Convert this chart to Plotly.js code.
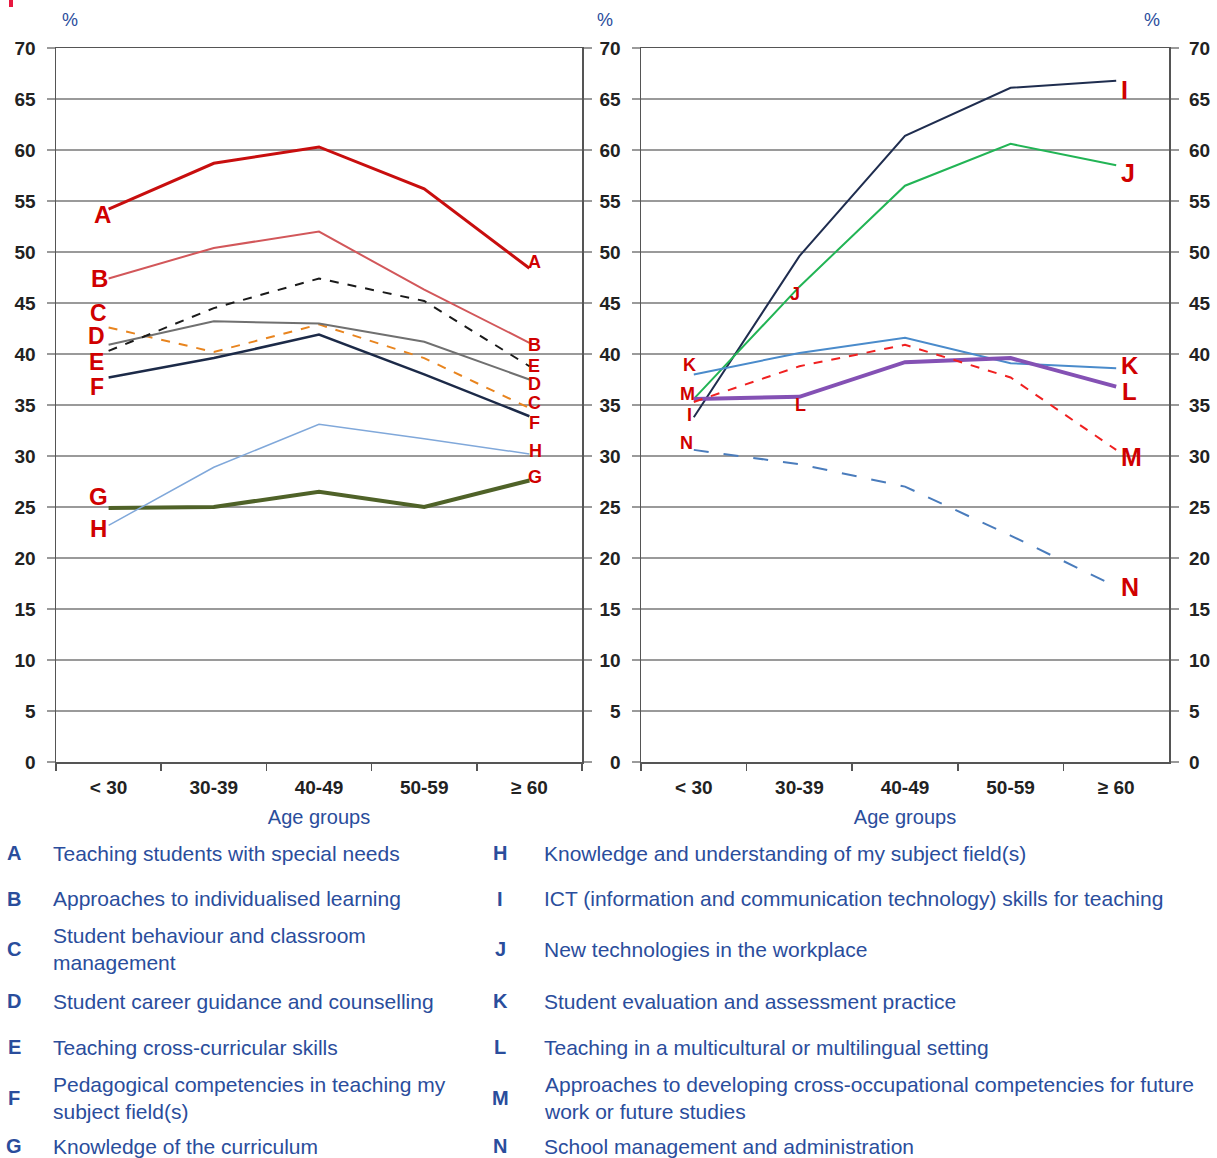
<!DOCTYPE html>
<html>
<head>
<meta charset="utf-8">
<script src="https://cdn.plot.ly/plotly-3.0.1.min.js"></script>
<style>html,body{margin:0;padding:0;background:#fff;}#chart{width:1217px;height:1158px;}</style>
</head>
<body>
<div id="chart"></div>
<script>
// ---- data ----
const ages = ['< 30', '30-39', '40-49', '50-59', '≥ 60'];
const yTicks = [0, 5, 10, 15, 20, 25, 30, 35, 40, 45, 50, 55, 60, 65, 70];

const A = [54.2, 58.7, 60.3, 56.2, 48.4];
const B = [47.4, 50.4, 52.0, 46.3, 41.1];
const C = [42.6, 40.2, 42.9, 39.6, 34.7];
const D = [40.9, 43.2, 43.0, 41.2, 37.5];
const E = [40.3, 44.5, 47.4, 45.2, 38.8];
const F = [37.7, 39.6, 41.9, 38.0, 33.9];
const G = [24.9, 25.0, 26.5, 25.0, 27.6];
const H = [23.2, 28.9, 33.1, 31.7, 30.2];

const I = [33.8, 49.6, 61.4, 66.1, 66.8];
const J = [35.6, 46.6, 56.5, 60.6, 58.5];
const K = [38.0, 40.1, 41.6, 39.1, 38.6];
const L = [35.6, 35.8, 39.2, 39.6, 36.8];
const M = [35.3, 38.8, 40.9, 37.7, 30.6];
const N = [30.6, 29.2, 27.0, 22.2, 17.2];

const legendLetters = ['A','B','C','D','E','F','G','H','I','J','K','L','M','N'];
const legendTexts = [
  'Teaching students with special needs',
  'Approaches to individualised learning',
  'Student behaviour and classroom<br>management',
  'Student career guidance and counselling',
  'Teaching cross-curricular skills',
  'Pedagogical competencies in teaching my<br>subject field(s)',
  'Knowledge of the curriculum',
  'Knowledge and understanding of my subject field(s)',
  'ICT (information and communication technology) skills for teaching',
  'New technologies in the workplace',
  'Student evaluation and assessment practice',
  'Teaching in a multicultural or multilingual setting',
  'Approaches to developing cross-occupational competencies for future<br>work or future studies',
  'School management and administration'
];
const axisTitle = 'Age groups';
const unitLabel = '%';

// ---- styling ----
const FONT = 'Liberation Sans, Arial, sans-serif';
const BLUE = '#2a4d9c';
const RED = '#d00000';
const W = 1217, Hh = 1158;
const px = v => v / W;
const py = v => 1 - v / Hh;

const seriesDefs = [
  {name:'A', y:A, ax:1, color:'#c80e0e', width:3, dash:'solid'},
  {name:'B', y:B, ax:1, color:'#d2575a', width:2, dash:'solid'},
  {name:'C', y:C, ax:1, color:'#e8841e', width:2, dash:'dash'},
  {name:'D', y:D, ax:1, color:'#707070', width:2, dash:'solid'},
  {name:'E', y:E, ax:1, color:'#1a1a1a', width:2, dash:'dash'},
  {name:'F', y:F, ax:1, color:'#1c2a48', width:2.5, dash:'solid'},
  {name:'G', y:G, ax:1, color:'#4f6228', width:4, dash:'solid'},
  {name:'H', y:H, ax:1, color:'#80a8da', width:1.5, dash:'solid'},
  {name:'I', y:I, ax:2, color:'#1f2d4f', width:2, dash:'solid'},
  {name:'J', y:J, ax:2, color:'#22b455', width:2, dash:'solid'},
  {name:'K', y:K, ax:2, color:'#4a8bcb', width:2, dash:'solid'},
  {name:'L', y:L, ax:2, color:'#8451b4', width:4, dash:'solid'},
  {name:'M', y:M, ax:2, color:'#f02020', width:2, dash:'dash'},
  {name:'N', y:N, ax:2, color:'#4a7cbc', width:2, dash:'longdash'}
];

const traces = seriesDefs.map(s => ({
  type:'scatter', mode:'lines', name:s.name,
  x: ages, y: s.y,
  xaxis: s.ax === 1 ? 'x' : 'x2',
  yaxis: s.ax === 1 ? 'y' : 'y2',
  line:{color:s.color, width:s.width, dash:s.dash},
  hoverinfo:'skip', showlegend:false
}));

// letter labels anchored to data points (index, pixel shifts, font size)
const labelDefs = [
  ['A',0,-6,-5,24],['B',0,-9,0,24],['C',0,-10,14,23],['D',0,-12,9,23],
  ['E',0,-12,-11,23],['F',0,-12,-10,23],['G',0,-10,12,24],['H',0,-10,-3,24],
  ['A',4,5,6,18],['B',4,5,-2,18],['E',4,5,0,18],['D',4,5,-4,18],
  ['C',4,5,5,18],['F',4,5,-7,18],['H',4,6,3,18],['G',4,6,3,18],
  ['K',0,-4,9,18],['M',0,-6,8,18],['I',0,-4,2,18],['N',0,-7,7,18],
  ['J',1,-4,-7,18],['L',1,1,-8,18],
  ['I',4,8,-9,25],['J',4,12,-8,25],['K',4,14,3,24],['L',4,13,-5,24],
  ['M',4,15,-7,25],['N',4,14,0,25]
];
const byName = {};
seriesDefs.forEach(s => byName[s.name] = s);
const annotations = labelDefs.map(([n, i, dx, dy, sz]) => {
  const s = byName[n];
  return {
    x: ages[i], y: s.y[i],
    xref: s.ax === 1 ? 'x' : 'x2', yref: s.ax === 1 ? 'y' : 'y2',
    text: '<b>' + n + '</b>', showarrow:false,
    xshift: dx, yshift: dy, xanchor:'center', yanchor:'middle',
    font:{family:FONT, size:sz, color:RED}
  };
});

// unit labels
[[70,20],[605,20],[1152,20]].forEach(([x,y]) => annotations.push({
  xref:'paper', yref:'paper', x:px(x), y:py(y), text:unitLabel, showarrow:false,
  xanchor:'center', yanchor:'middle', font:{family:FONT, size:18, color:BLUE}
}));

// legend
const rowY = [853, 899, 949, 1001, 1047, 1098, 1146];
legendLetters.forEach((l, k) => {
  const col = k < 7 ? 0 : 1;
  const r = k % 7;
  const lx = col === 0 ? 14 : 500;
  const tx = col === 0 ? 51 : 542;
  annotations.push({
    xref:'paper', yref:'paper', x:px(lx), y:py(rowY[r]), text:'<b>' + l + '</b>',
    showarrow:false, xanchor:'center', yanchor:'middle',
    font:{family:FONT, size:20, color:BLUE}
  });
  annotations.push({
    xref:'paper', yref:'paper', x:px(tx), y:py(rowY[r]), text:legendTexts[k],
    showarrow:false, xanchor:'left', yanchor:'middle', align:'left',
    font:{family:FONT, size:21, color:BLUE}
  });
});

const tickFont = {family:FONT, size:19, color:'#222', weight:'bold'};
const xBase = {
  type:'category', categoryarray: ages, range:[-0.5, 4.5],
  showgrid:false, zeroline:false,
  showline:true, linecolor:'#555', linewidth:1.5, mirror:true,
  ticks:'outside', tickson:'boundaries', ticklen:7, tickcolor:'#555', tickwidth:1.5,
  tickfont: tickFont, fixedrange:true, ticklabelstandoff:8,
  title:{text:axisTitle, font:{family:FONT, size:20, color:BLUE}, standoff:12}
};
const yBase = {
  range:[0,70], tickvals: yTicks, ticktext: yTicks.map(String),
  showgrid:true, gridcolor:'#9a9a9a', gridwidth:1.5, zeroline:false,
  showline:true, linecolor:'#555', linewidth:1.5, mirror:'ticks',
  ticks:'outside', ticklen:8, tickcolor:'#9a9a9a', tickwidth:1.5,
  tickfont: tickFont, fixedrange:true
};

const layout = {
  width:W, height:Hh, autosize:false,
  margin:{l:0, r:0, t:0, b:0},
  paper_bgcolor:'#fff', plot_bgcolor:'#fff',
  font:{family:FONT},
  xaxis: Object.assign({}, xBase, {domain:[px(56), px(582)], anchor:'y'}),
  yaxis: Object.assign({}, yBase, {domain:[py(762), py(48)], anchor:'x', ticklabelstandoff:7}),
  xaxis2: Object.assign({}, xBase, {domain:[px(641), px(1169)], anchor:'y2'}),
  yaxis2: Object.assign({}, yBase, {domain:[py(762), py(48)], anchor:'x2', ticklabelstandoff:7}),
  yaxis3: Object.assign({}, yBase, {overlaying:'y2', anchor:'x2', side:'right',
    showgrid:false, showline:false, ticks:'', ticklabelstandoff:19}),
  annotations: annotations,
  shapes:[{type:'rect', xref:'paper', yref:'paper', x0:px(9), x1:px(13), y0:py(7), y1:py(0),
    fillcolor:'#e8173f', line:{width:0}}]
};

// invisible trace to activate yaxis3
traces.push({type:'scatter', mode:'lines', x:ages, y:I, xaxis:'x2', yaxis:'y3',
  line:{width:0, color:'rgba(0,0,0,0)'}, hoverinfo:'skip', showlegend:false});

Plotly.newPlot('chart', traces, layout, {staticPlot:true, displayModeBar:false});
</script>
</body>
</html>
